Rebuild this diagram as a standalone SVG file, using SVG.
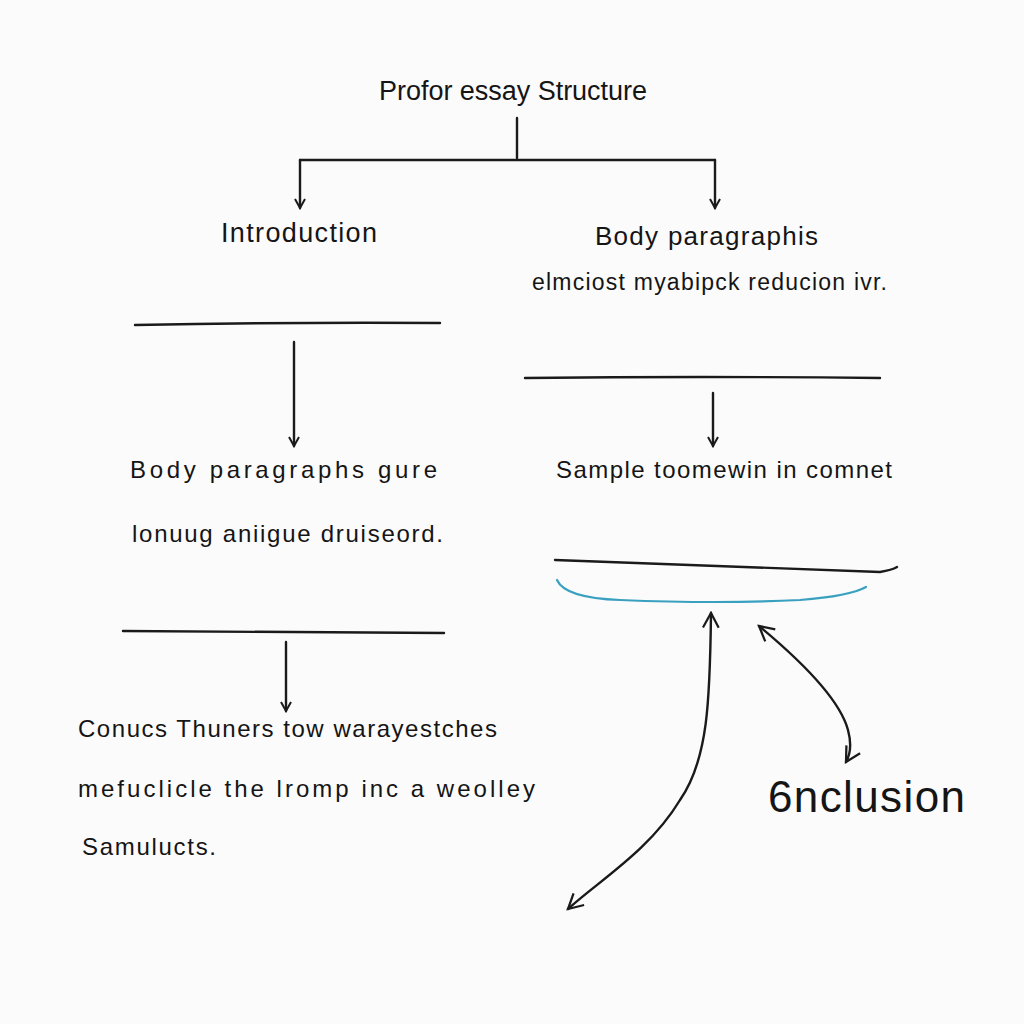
<svg xmlns="http://www.w3.org/2000/svg" width="1024" height="1024" viewBox="0 0 1024 1024">
<defs>
<style>
.t{font-family:"Comic Sans MS","Liberation Sans",sans-serif;fill:#151515}
.ln{stroke:#1a1a1a;stroke-width:2.4;fill:none;stroke-linecap:round}
</style>
<marker id="ah" viewBox="0 0 12 12" refX="10" refY="6" markerWidth="12" markerHeight="12" markerUnits="userSpaceOnUse" orient="auto-start-reverse">
<path d="M1,1 L10,6 L1,11" fill="none" stroke="#1a1a1a" stroke-width="2"/>
</marker>
<marker id="ao" viewBox="0 0 16 16" refX="14" refY="8" markerWidth="18" markerHeight="18" markerUnits="userSpaceOnUse" orient="auto-start-reverse">
<path d="M1,1 L14,8 L1,15" fill="none" stroke="#1a1a1a" stroke-width="2"/>
</marker>
</defs>
<rect width="1024" height="1024" fill="#fbfbfb"/>
<g id="title"><text class="t" x="379" y="100" font-size="27" textLength="268" lengthAdjust="spacing">Profor essay Structure</text></g>
<g id="intro"><text class="t" x="221" y="242" font-size="27" textLength="156" lengthAdjust="spacing">Introduction</text></g>
<g id="body-right"><text class="t" x="595" y="245" font-size="26" textLength="223" lengthAdjust="spacing">Body paragraphis</text>
<text class="t" x="532" y="290" font-size="23" textLength="355" lengthAdjust="spacing">elmciost myabipck reducion ivr.</text></g>
<g id="body-left"><text class="t" x="130" y="478" font-size="24" textLength="307" lengthAdjust="spacing">Body paragraphs gure</text>
<text class="t" x="132" y="542" font-size="24" textLength="311" lengthAdjust="spacing">lonuug aniigue druiseord.</text></g>
<g id="sample"><text class="t" x="556" y="478" font-size="24" textLength="336" lengthAdjust="spacing">Sample toomewin in comnet</text></g>
<g id="conclusion-text"><text class="t" x="78" y="737" font-size="24" textLength="419" lengthAdjust="spacing">Conucs Thuners tow warayestches</text>
<text class="t" x="78" y="797" font-size="24" textLength="457" lengthAdjust="spacing">mefuclicle the lromp inc a weolley</text>
<text class="t" x="82" y="855" font-size="24" textLength="134" lengthAdjust="spacing">Samulucts.</text></g>
<g id="conclusion"><text class="t" x="768" y="812" font-size="44" textLength="197" lengthAdjust="spacing">6nclusion</text></g>
<g id="connectors">
<path class="ln" d="M517,118 L517,158"/>
<path class="ln" d="M300,160 L715,160"/>
<path class="ln" d="M300,160 L300,208" marker-end="url(#ah)"/>
<path class="ln" d="M715,160 L715,208" marker-end="url(#ah)"/>
<path class="ln" d="M135,325 Q290,322 440,323"/>
<path class="ln" d="M294,342 L294,446" marker-end="url(#ah)"/>
<path class="ln" d="M525,378 Q700,376 880,378"/>
<path class="ln" d="M713,393 L713,446" marker-end="url(#ah)"/>
<path class="ln" d="M555,560 Q700,566 880,572 Q892,570 897,567"/>
<path d="M557,580 Q565,598 620,600 Q720,604 800,600 Q850,596 866,587" fill="none" stroke="#3aa0c0" stroke-width="2.2" stroke-linecap="round"/>
<path class="ln" d="M123,631 Q280,632 444,633"/>
<path class="ln" d="M286,642 L286,711" marker-end="url(#ah)"/>
<path class="ln" d="M711,613 C710,700 708,760 680,800 C650,850 600,880 568,909" marker-start="url(#ao)" marker-end="url(#ao)"/>
<path class="ln" d="M759,626 C800,660 840,700 848,730 C852,745 850,755 846,762" marker-start="url(#ao)" marker-end="url(#ao)"/>
</g>
</svg>
